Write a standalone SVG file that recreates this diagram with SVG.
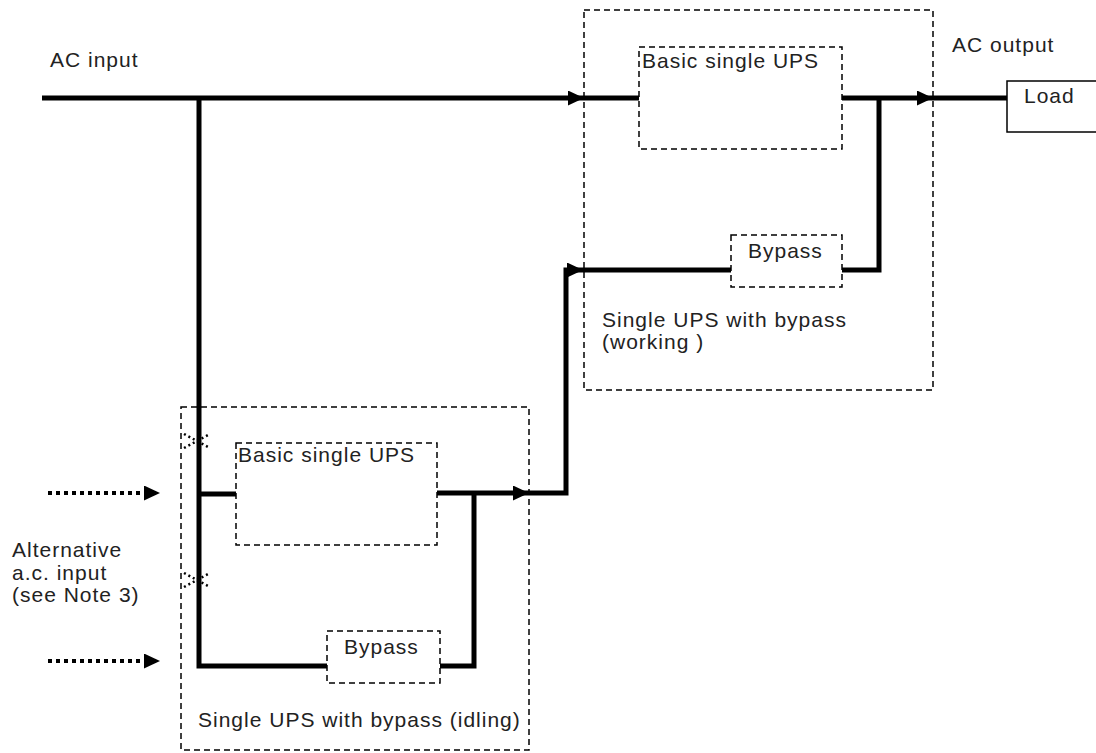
<svg xmlns="http://www.w3.org/2000/svg" width="1096" height="753" viewBox="0 0 1096 753">
<defs>
<style>
.t{font-family:"Liberation Sans",Arial,sans-serif;font-size:21px;letter-spacing:1px;fill:#222}
.box{fill:none;stroke:#000;stroke-width:1.5;stroke-dasharray:6 4}
.w{fill:none;stroke:#000;stroke-width:5}
.dot{fill:none;stroke:#000;stroke-width:4;stroke-dasharray:4 4}
.x{fill:none;stroke:#000;stroke-width:2.5;stroke-dasharray:2 3}
</style>
<marker id="ah" viewBox="0 0 16 15" refX="16" refY="7.5" markerWidth="16" markerHeight="15" markerUnits="userSpaceOnUse" orient="auto"><path d="M0,0 L16,7.5 L0,15 Z" fill="#000"/></marker>
</defs>
<rect width="1096" height="753" fill="#fff"/>
<g id="upper-system">
<rect class="box" x="584" y="10" width="349" height="380"/>
<text class="t" x="602" y="327">Single UPS with bypass</text>
<text class="t" x="602" y="349">(working )</text>
</g>
<g id="upper-ups">
<rect class="box" x="639" y="47" width="203" height="102"/>
<text class="t" x="642" y="68">Basic single UPS</text>
</g>
<g id="upper-bypass">
<rect class="box" x="731" y="235" width="111" height="52"/>
<text class="t" x="748" y="258">Bypass</text>
</g>
<g id="lower-system">
<rect class="box" x="181" y="407" width="348" height="343"/>
<text class="t" x="198" y="727">Single UPS with bypass (idling)</text>
</g>
<g id="lower-ups">
<rect class="box" x="236" y="443" width="201" height="102"/>
<text class="t" x="238" y="462">Basic single UPS</text>
</g>
<g id="lower-bypass">
<rect class="box" x="327" y="631" width="113" height="52"/>
<text class="t" x="344" y="654">Bypass</text>
</g>
<g id="load">
<rect x="1007" y="81" width="100" height="51" fill="none" stroke="#000" stroke-width="1.5"/>
<text class="t" x="1024" y="103">Load</text>
</g>
<g id="labels">
<text class="t" x="50" y="67">AC input</text>
<text class="t" x="952" y="52">AC output</text>
<text class="t" x="12" y="557">Alternative</text>
<text class="t" x="12" y="580">a.c. input</text>
<text class="t" x="12" y="602">(see Note 3)</text>
</g>
<g id="connectors">
<path class="w" d="M42,98 H584" marker-end="url(#ah)"/>
<path class="w" d="M584,98 H639"/>
<path class="w" d="M842,98 H933" marker-end="url(#ah)"/>
<path class="w" d="M933,98 H1007"/>
<path class="w" d="M842,270 H879 V98"/>
<path class="w" d="M199,98 V666 H327"/>
<path class="w" d="M199,494 H236"/>
<path class="w" d="M437,493 H529" marker-end="url(#ah)"/>
<path class="w" d="M440,666 H474 V493"/>
<path class="w" d="M529,493 H566 V270 H583" marker-end="url(#ah)"/>
<path class="w" d="M583,270 H731"/>
<path class="dot" d="M48,493 H160" marker-end="url(#ah)"/>
<path class="dot" d="M48,661 H160" marker-end="url(#ah)"/>
<path class="x" d="M184,434 L210,448 M184,448 L210,434"/>
<path class="x" d="M184,573 L210,587 M184,587 L210,573"/>
</g>
</svg>
